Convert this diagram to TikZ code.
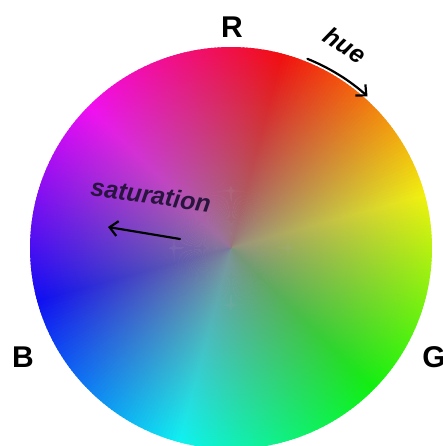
\documentclass[tikz,border=0pt]{standalone}
\usepackage{fontspec}
\setmainfont{Liberation Sans}
\usetikzlibrary{arrows.meta,fadings,calc}

\tikzfading[name=satfade, inner color=transparent!10, outer color=transparent!100]

\tikzset{
  chanlbl/.style={font=\fontsize{30}{30}\selectfont\bfseries},
  axislbl/.style={font=\fontsize{25}{25}\selectfont\bfseries\itshape},
  pointer/.style={line width=2.2pt, -{Straight Barb[length=8pt,width=15pt,line width=2.2pt]}}
}

\begin{document}
\begin{tikzpicture}[x=1pt, y=1pt, line cap=round, line join=round]
  \definecolor{satgray}{RGB}{138,132,140}
  \definecolor{satink}{RGB}{40,20,62}
  \useasboundingbox (0,0) rectangle (442,446);
  \coordinate (ctr) at (231,198);
  % hue wheel, red at the top, clockwise
  \foreach \h in {0,...,359} {
    \pgfmathsetmacro{\a}{75-\h}
    \definecolor{wedgecol}{Hsb}{\h,1,1}
    \fill[wedgecol] (ctr) -- ++(\a+0.7:201) arc[start angle=\a+0.7, end angle=\a-0.7, radius=201] -- cycle;
  }
  % grey towards the centre
  \begin{scope}
    \clip (ctr) circle (201);
    \fill[satgray, path fading=satfade] (ctr) circle (228);
  \end{scope}

  \node[chanlbl] (rlbl) at (232,419) {R};
  \node[chanlbl] (blbl) at (23,89) {B};
  \node[chanlbl] (glbl) at (434,89) {G};

  \node[axislbl, rotate=-33] (huelbl) at (345,401) {hue};
  \coordinate (huestart) at ($(ctr)+(68:204)$);
  \draw[pointer] (huestart) arc[start angle=68, end angle=48, radius=204];

  \node[axislbl, text=satink, rotate=-8] (satlbl) at (151,251) {saturation};
  \coordinate (sattail) at (180,207);
  \coordinate (sathead) at (108,219);
  \draw[pointer] (sattail) -- (sathead);
\end{tikzpicture}
\end{document}
